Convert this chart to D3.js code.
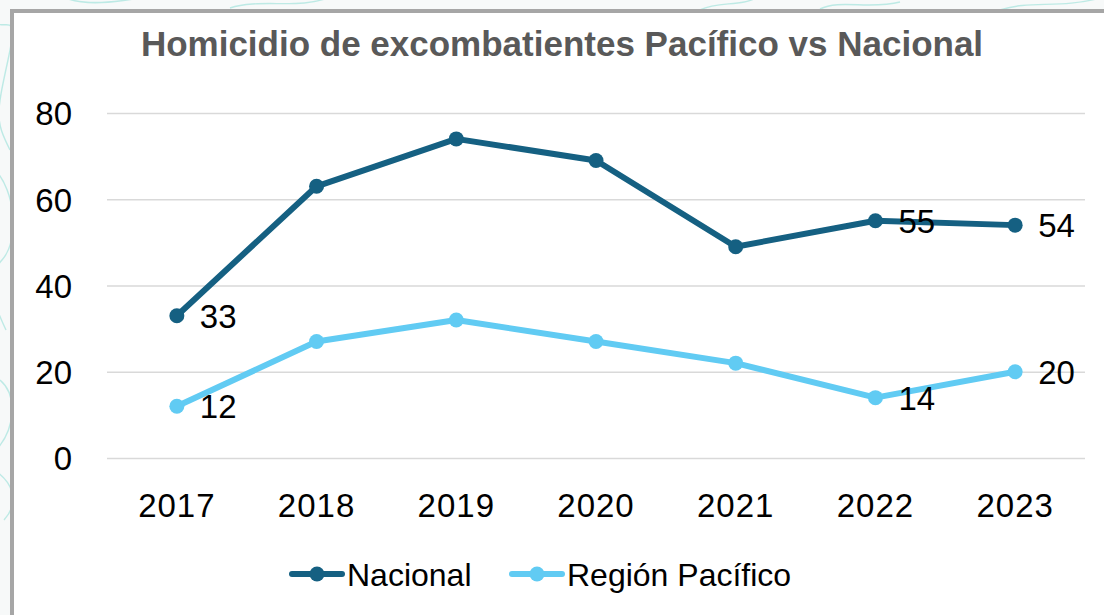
<!DOCTYPE html>
<html>
<head>
<meta charset="utf-8">
<script src="https://cdn.jsdelivr.net/npm/d3@7"></script>
<style>
  html, body { margin: 0; padding: 0; background: #ffffff; }
  svg { display: block; }
  text { font-family: "Liberation Sans", Arial, sans-serif; }
</style>
</head>
<body>
<svg id="chart" width="1104" height="615"></svg>
<script>
// Chart data
const years = ["2017", "2018", "2019", "2020", "2021", "2022", "2023"];
const nacional = [33, 63, 74, 69, 49, 55, 54];
const pacifico = [12, 27, 32, 27, 22, 14, 20];
const yTicks = [0, 20, 40, 60, 80];
const seriesNames = ["Nacional", "Región Pacífico"];
const seriesColors = ["#156082", "#61CBF3"];
const labelledYears = ["2017", "2022", "2023"];
const title = "Homicidio de excombatientes Pacífico vs Nacional";

const svg = d3.select("#chart");
const W = 1104, H = 615;
const numSize = 33;

// Page background around the chart frame, with soft contour lines
svg.append("rect").attr("width", W).attr("height", H).attr("fill", "#f7f9f9");
const deco = svg.append("g").attr("fill", "none").attr("stroke", "#8fded6")
  .attr("stroke-width", 1.4).attr("opacity", 0.55);
const curves = [
  "M-10,20 C5,35 20,5 8,60 S-5,120 10,150",
  "M-5,170 C15,190 20,240 2,260 S-8,300 6,330",
  "M0,380 C18,395 15,430 -4,450",
  "M-6,470 C10,480 22,500 4,520",
  "M60,-5 C80,8 120,2 150,-4",
  "M230,8 C260,-2 300,10 330,-3",
  "M700,10 C720,0 740,8 760,-4",
  "M820,9 C840,-1 870,10 900,2",
  "M1000,10 C1030,0 1060,9 1100,-2"
];
curves.forEach(d => deco.append("path").attr("d", d));

// Chart frame
svg.append("rect")
  .attr("x", 12).attr("y", 11).attr("width", W + 20).attr("height", H + 20)
  .attr("fill", "#ffffff").attr("stroke", "#a6a6a6").attr("stroke-width", 4);

// Title
svg.append("text")
  .attr("x", 562).attr("y", 56)
  .attr("text-anchor", "middle")
  .attr("font-size", 35).attr("font-weight", "bold")
  .attr("fill", "#595959")
  .text(title);

// Scales
const plotLeft = 107, plotRight = 1085;
const x = d3.scaleBand().domain(years).range([plotLeft, plotRight]);
const y = d3.scaleLinear().domain([0, 80]).range([458, 113]);
const cx = d => x(d) + x.bandwidth() / 2;

// Gridlines
const grid = d3.axisLeft(y).tickValues(yTicks).tickSize(-(plotRight - plotLeft)).tickFormat("");
const gGrid = svg.append("g").attr("transform", `translate(${plotLeft},0)`).call(grid);
gGrid.select(".domain").remove();
gGrid.selectAll("line").attr("stroke", "#d9d9d9").attr("stroke-width", 1.6);

// Y axis labels
const yAxis = d3.axisLeft(y).tickValues(yTicks).tickSize(0).tickPadding(35);
const gY = svg.append("g").attr("transform", `translate(${plotLeft},0)`).call(yAxis);
gY.select(".domain").remove();
gY.selectAll("text")
  .attr("font-family", "'Liberation Sans', Arial, sans-serif")
  .attr("font-size", numSize).attr("fill", "#000").attr("dy", "0.36em");

// X axis labels
const xAxis = d3.axisBottom(x).tickSize(0).tickPadding(0);
const gX = svg.append("g").attr("transform", `translate(0,458)`).call(xAxis);
gX.select(".domain").remove();
gX.selectAll("text")
  .attr("font-family", "'Liberation Sans', Arial, sans-serif")
  .attr("font-size", numSize).attr("fill", "#000")
  .attr("letter-spacing", 1)
  .attr("y", 59).attr("dy", 0);

// Series lines, markers and value labels
const line = d3.line().x((d, i) => cx(years[i])).y(d => y(d));
[nacional, pacifico].forEach((vals, s) => {
  const g = svg.append("g");
  g.append("path").datum(vals)
    .attr("d", line).attr("fill", "none")
    .attr("stroke", seriesColors[s]).attr("stroke-width", 6)
    .attr("stroke-linejoin", "round").attr("stroke-linecap", "round");
  g.selectAll("circle").data(vals).join("circle")
    .attr("cx", (d, i) => cx(years[i])).attr("cy", d => y(d))
    .attr("r", 7.5).attr("fill", seriesColors[s]);
});
[nacional, pacifico].forEach(vals => {
  svg.append("g").selectAll("text")
    .data(vals.map((v, i) => ({ v, yr: years[i] })).filter(d => labelledYears.includes(d.yr)))
    .join("text")
    .attr("x", d => cx(d.yr) + 23).attr("y", d => y(d.v))
    .attr("dy", "0.36em")
    .attr("font-size", numSize).attr("fill", "#000")
    .text(d => d.v);
});

// Legend
const legendItems = [
  { name: seriesNames[0], color: seriesColors[0], x0: 292 },
  { name: seriesNames[1], color: seriesColors[1], x0: 512 }
];
const legendY = 574;
legendItems.forEach(it => {
  const g = svg.append("g");
  g.append("line")
    .attr("x1", it.x0).attr("x2", it.x0 + 50)
    .attr("y1", legendY).attr("y2", legendY)
    .attr("stroke", it.color).attr("stroke-width", 6).attr("stroke-linecap", "round");
  g.append("circle").attr("cx", it.x0 + 25).attr("cy", legendY).attr("r", 7.5).attr("fill", it.color);
  g.append("text")
    .attr("x", it.x0 + 55).attr("y", legendY).attr("dy", "0.36em")
    .attr("font-size", 32).attr("fill", "#000")
    .text(it.name);
});
</script>
</body>
</html>
